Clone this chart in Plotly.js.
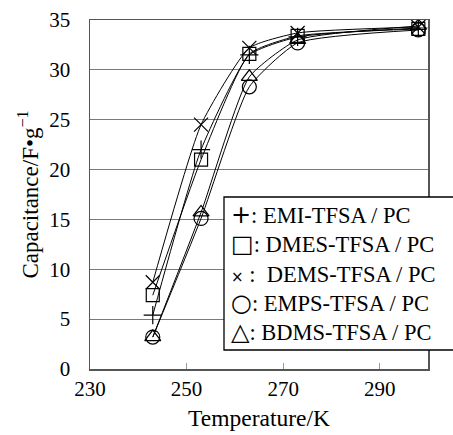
<!DOCTYPE html>
<html><head><meta charset="utf-8">
<script src="https://cdn.plot.ly/plotly-3.0.1.min.js"></script>
<style>body{margin:0;}#c{width:453px;height:435px;}</style>
</head><body><div id="c"></div>
<script>
const temps = [243, 253, 263, 273, 298];
const emi  = [5.4, 22.0, 31.5, 33.3, 34.2];
const dmes = [7.4, 21.0, 31.6, 33.4, 34.1];
const dems = [8.7, 24.5, 32.2, 33.7, 34.3];
const emps = [3.2, 15.1, 28.3, 32.7, 34.0];
const bdms = [3.2, 15.7, 29.3, 33.0, 34.4];
const seriesNames = ['EMI-TFSA / PC','DMES-TFSA / PC','DEMS-TFSA / PC','EMPS-TFSA / PC','BDMS-TFSA / PC'];
const legendSymbols = ['+','□','×','○','△'];
const xTicks = [230, 250, 270, 290];
const yTicks = [0,5,10,15,20,25,30,35];

const symbols = ['cross-thin-open','square-open','x-thin-open','circle-open','triangle-up-open'];
const sizes = [13, 13, 14, 14, 14];
const data = [emi, dmes, dems, emps, bdms].map((y,i)=>({
  x: temps, y: y, type:'scatter', mode:'lines+markers', name: seriesNames[i],
  line:{color:'black', width:1, shape:'spline', smoothing:0.5},
  marker:{symbol:symbols[i], size:sizes[i], color:'black', line:{color:'black', width:1.2}},
  showlegend:false
}));

const fam = '"Liberation Serif", "Times New Roman", serif';
const font = {family:fam, color:'black'};
const f = s => Object.assign({size:s}, font);
const symSizes = [24, 24, 15, 24, 24];
const legendText = seriesNames.map((n,i)=>
  '<span style="font-family:DejaVu Sans;font-size:' + symSizes[i] + 'px">' + legendSymbols[i] + '</span>' +
  (i===2 ? ' :  ' : ': ') + n).join('<br>');

const px = v => (v-90)/338, py = v => (369-v)/349;
const layout = {
  width:453, height:435,
  margin:{l:90, r:25, t:20, b:66},
  paper_bgcolor:'white', plot_bgcolor:'white',
  font: f(21),
  xaxis:{range:[230,300], tickvals:xTicks, showgrid:false, zeroline:false,
    showline:true, linecolor:'#555', linewidth:1.5, mirror:true,
    ticks:'inside', ticklen:6, tickcolor:'#999',
    tickfont:f(21),
    title:{text:'Temperature/K', font:f(23.5), standoff:10}},
  yaxis:{range:[0,35], tickvals:yTicks, showgrid:true, gridcolor:'#7a7a7a', gridwidth:1,
    zeroline:false, showline:true, linecolor:'#555', linewidth:1.5, mirror:true,
    ticks:'outside', ticklen:14, tickcolor:'rgba(0,0,0,0)', tickfont:f(21),
    title:{text:'Capacitance/F•g<sup>−1</sup>', font:f(23), standoff:4}},
  shapes:[{type:'rect', xref:'paper', yref:'paper', x0:px(224), x1:px(456), y0:py(350), y1:py(197),
    fillcolor:'white', line:{color:'black', width:1.3}, layer:'above'}],
  annotations:[{
    xref:'paper', yref:'paper', x:px(229), y:py(199), xanchor:'left', yanchor:'top',
    text: legendText, showarrow:false, align:'left',
    font:f(22.5)
  }]
};
Plotly.newPlot('c', data, layout, {displayModeBar:false, staticPlot:true});
</script></body></html>
